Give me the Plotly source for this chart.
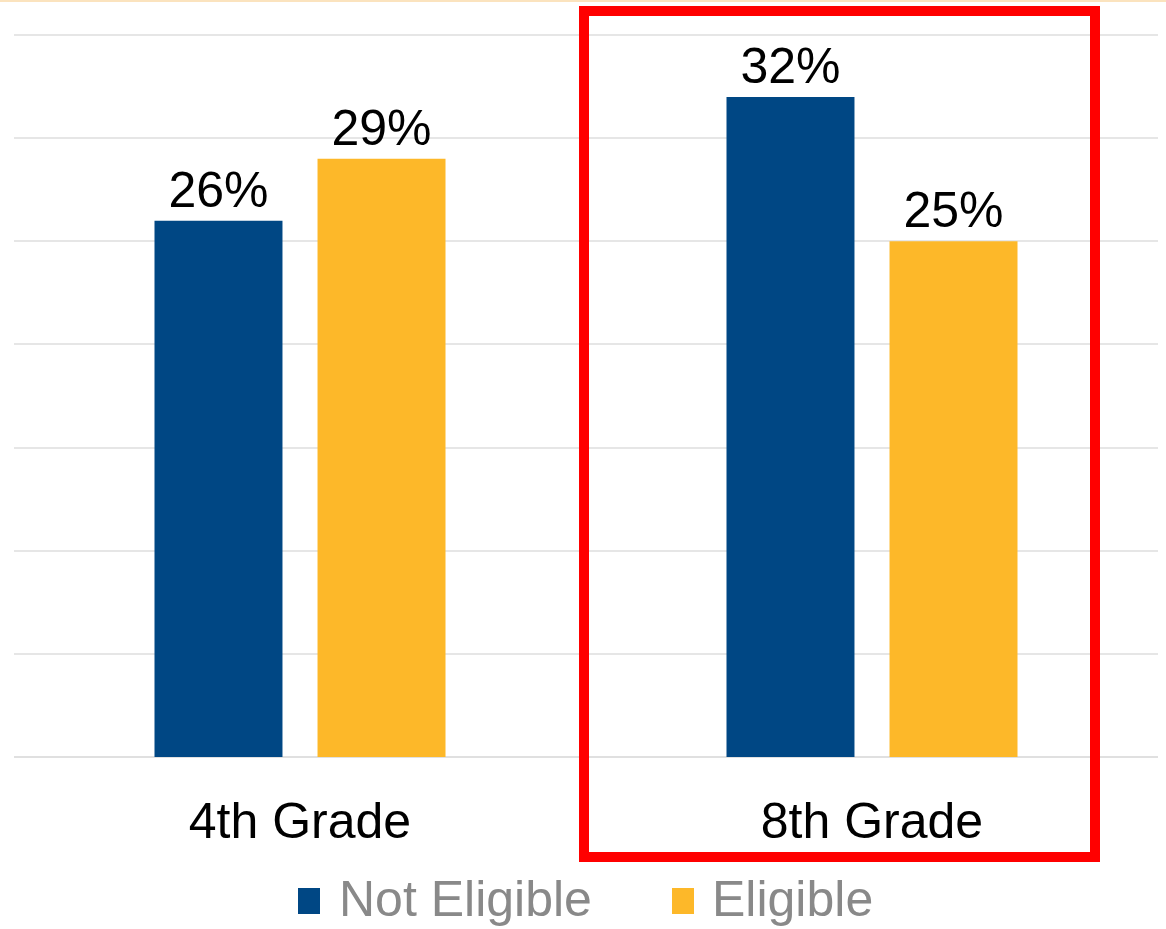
import plotly.graph_objects as go

categories = ["4th Grade", "8th Grade"]
series_names = ["Not Eligible", "Eligible"]
not_eligible = [26, 32]
eligible = [29, 25]
series_values = [not_eligible, eligible]
colors = ["#004784", "#FDB829"]

W, H = 1166, 929
L, R, T, B = 14, 8, 32, 172
pw, ph = W - L - R, H - T - B
FONT = "Liberation Sans, Arial"

def px(x):
    return (x - L) / pw

def py(y):
    return (H - B - y) / ph

fig = go.Figure()
for name, vals, col in zip(series_names, series_values, colors):
    fig.add_trace(go.Bar(
        x=categories, y=vals, name=name, marker_color=col,
        marker_line_width=0,
        text=[f"{v}%" for v in vals], textposition="outside",
        textfont=dict(size=50, color="#000000", family=FONT),
        cliponaxis=False, showlegend=False,
    ))

# custom legend
leg_sq = [(298, 320), (672, 694)]
leg_tx = [338, 711]
for (x0, x1), tx, name, col in zip(leg_sq, leg_tx, series_names, colors):
    fig.add_shape(type="rect", xref="paper", yref="paper",
                  x0=px(x0), x1=px(x1), y0=py(914), y1=py(888),
                  fillcolor=col, line_width=0)
    fig.add_annotation(xref="paper", yref="paper", x=px(tx), y=py(899),
                       text=name, showarrow=False, xanchor="left", yanchor="middle",
                       borderpad=0,
                       font=dict(size=50, color="#898989", family=FONT))

# highlight box
fig.add_shape(type="rect", xref="paper", yref="paper",
              x0=px(584), x1=px(1095), y0=py(857), y1=py(11),
              line=dict(color="#FF0000", width=10), fillcolor="rgba(0,0,0,0)")
# faint top line
fig.add_shape(type="line", xref="paper", yref="paper",
              x0=px(0), x1=px(W), y0=py(1), y1=py(1),
              line=dict(color="#FBE3BE", width=2))

fig.update_layout(
    width=W, height=H,
    margin=dict(l=L, r=R, t=T, b=B),
    paper_bgcolor="white", plot_bgcolor="white",
    barmode="group", bargap=0.43, bargroupgap=0.215,
    showlegend=False,
    font=dict(family=FONT),
)
fig.update_yaxes(range=[0, 35.15], dtick=5, showticklabels=False,
                 showgrid=True, gridcolor="#E6E6E6", gridwidth=2,
                 zeroline=True, zerolinecolor="#E0E0E0", zerolinewidth=2)
fig.update_xaxes(tickfont=dict(size=50, color="#000000", family=FONT),
                 ticks="", ticklabelstandoff=30, showline=False)

fig.write_html("out.html", config={"displayModeBar": False},
               post_script="document.body.style.margin='0';")
